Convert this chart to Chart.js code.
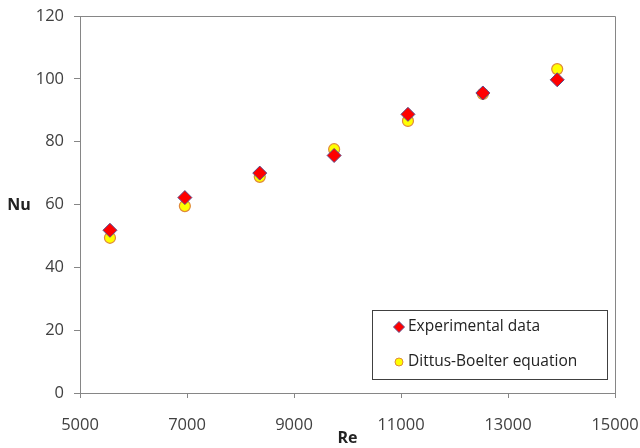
<!DOCTYPE html>
<html>
<head>
<meta charset="utf-8">
<script src="https://cdn.jsdelivr.net/npm/chart.js@4.4.1/dist/chart.umd.min.js"></script>
<style>
  html, body { margin: 0; padding: 0; background: #fff; }
  #wrap { width: 640px; height: 448px; }
</style>
</head>
<body>
<div id="wrap"><canvas id="nuChart" width="640" height="448"></canvas></div>
<script>
// Data
var reynolds = [5560, 6960, 8360, 9750, 11130, 12530, 13920];
var nuExperimental = [51.8, 62.2, 70.0, 75.6, 88.7, 95.5, 99.7];
var nuDittusBoelter = [49.4, 59.5, 68.8, 77.6, 86.6, 95.2, 103.1];
var xTicks = [5000, 7000, 9000, 11000, 13000, 15000];
var yTicks = [0, 20, 40, 60, 80, 100, 120];

var fontFamily = "'Open Sans', 'Liberation Sans', sans-serif";

function toPoints(xs, ys) {
    return xs.map(function(x, i) { return { x: x, y: ys[i] }; });
}

// frame, "Nu" label and boxed legend inside the plot
var framePlugin = {
    id: 'frame',
    afterDraw: function(chart) {
        var ctx = chart.ctx;
        var a = chart.chartArea;
        ctx.save();
        ctx.strokeStyle = '#868686';
        ctx.lineWidth = 1;
        ctx.beginPath();
        ctx.moveTo(a.left + 0.5, a.top + 0.5);
        ctx.lineTo(a.right + 0.5, a.top + 0.5);
        ctx.lineTo(a.right + 0.5, a.bottom);
        ctx.stroke();

        ctx.fillStyle = '#222';
        ctx.font = 'bold 16px ' + fontFamily;
        ctx.textAlign = 'center';
        ctx.textBaseline = 'middle';
        ctx.fillText('Nu', 19, 205);

        // legend box
        var bx = 372, by = 310, bw = 235, bh = 69;
        ctx.strokeStyle = '#404040';
        ctx.strokeRect(bx + 0.5, by + 0.5, bw, bh);
        ctx.font = '15.5px ' + fontFamily;
        ctx.textAlign = 'left';
        chart.data.datasets.forEach(function(ds, i) {
            var ly = by + 17 + i * 35;
            ctx.fillStyle = ds.backgroundColor;
            ctx.strokeStyle = ds.borderColor;
            ctx.lineWidth = 1;
            Chart.helpers.drawPoint(ctx, {
                pointStyle: ds.pointStyle,
                radius: ds.pointRadius - 1.5,
                borderWidth: 1,
                rotation: 0
            }, 399, ly);
            ctx.fillStyle = '#222';
            ctx.fillText(ds.label, 408, ly);
        });
        ctx.restore();
    }
};

var ctxNu = document.getElementById('nuChart').getContext('2d');
var nuChart = new Chart(ctxNu, {
    type: 'scatter',
    data: {
        datasets: [{
            label: 'Experimental data',
            data: toPoints(reynolds, nuExperimental),
            pointStyle: 'rectRot',
            pointRadius: 7,
            backgroundColor: '#ff0000',
            borderColor: '#5a4a8a',
            borderWidth: 1
        }, {
            label: 'Dittus-Boelter equation',
            data: toPoints(reynolds, nuDittusBoelter),
            pointStyle: 'circle',
            pointRadius: 5.5,
            backgroundColor: '#ffff00',
            borderColor: '#e0893a',
            borderWidth: 1.2
        }]
    },
    options: {
        responsive: false,
        animation: false,
        layout: { padding: { left: 0, right: 25, top: 16, bottom: 0 } },
        scales: {
            x: {
                type: 'linear',
                min: 5000,
                max: 15000,
                afterBuildTicks: function(scale) {
                    scale.ticks = xTicks.map(function(v) { return { value: v }; });
                },
                afterFit: function(scale) {
                    scale.height = 55;
                    scale.paddingLeft = 0;
                    scale.paddingRight = 0;
                },
                grid: { drawOnChartArea: false, tickLength: 5, color: '#868686' },
                border: { color: '#868686' },
                ticks: {
                    padding: 17,
                    color: '#404040',
                    font: { family: fontFamily, size: 16.5 },
                    callback: function(v) { return String(v); }
                },
                title: {
                    display: true,
                    text: 'Re',
                    color: '#222',
                    padding: { top: 0, bottom: 0 },
                    font: { family: fontFamily, size: 16, weight: 'bold' }
                }
            },
            y: {
                min: 0,
                max: 120,
                afterBuildTicks: function(scale) {
                    scale.ticks = yTicks.map(function(v) { return { value: v }; });
                },
                afterFit: function(scale) {
                    scale.width = 80;
                    scale.paddingTop = 0;
                    scale.paddingBottom = 0;
                },
                grid: { drawOnChartArea: false, tickLength: 6, color: '#868686' },
                border: { color: '#868686' },
                ticks: {
                    padding: 10,
                    color: '#404040',
                    font: { family: fontFamily, size: 16.5 }
                }
            }
        },
        plugins: {
            legend: { display: false },
            tooltip: { enabled: false }
        }
    },
    plugins: [framePlugin]
});
</script>
</body>
</html>
